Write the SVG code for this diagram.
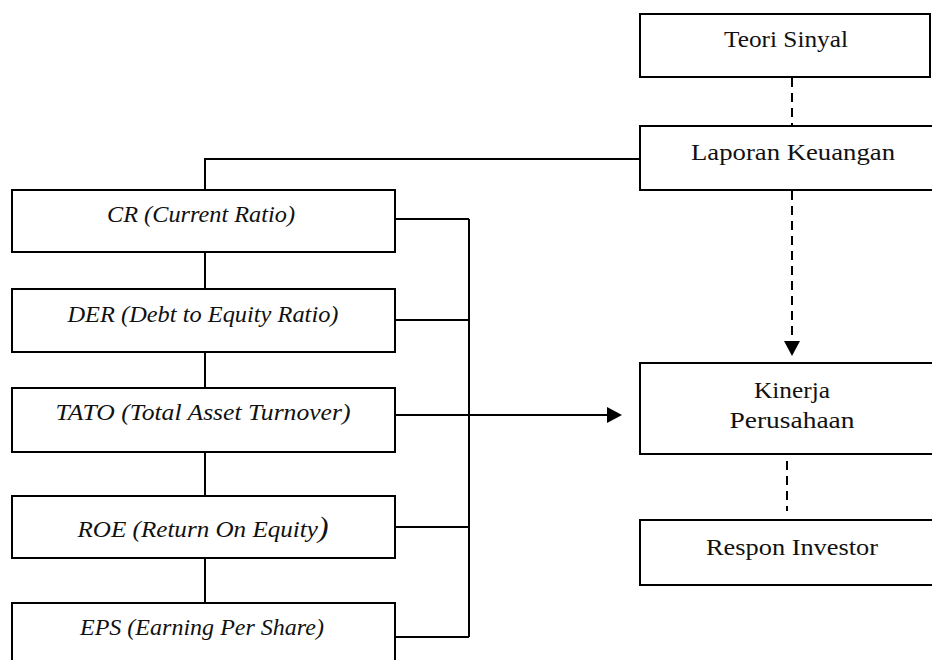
<svg xmlns="http://www.w3.org/2000/svg" width="932" height="660" viewBox="0 0 932 660">
<defs>
<style>
.box{fill:#fff;stroke:#000;stroke-width:2}
.ln{fill:none;stroke:#000;stroke-width:2}
.dash{fill:none;stroke:#000;stroke-width:2;stroke-dasharray:9 6}
.t{font-family:"Liberation Serif","Times New Roman",serif;font-size:23px;fill:#111;text-anchor:middle}
.i{font-style:italic}
</style>
</defs>
<rect width="932" height="660" fill="#fff"/>
<g id="connectors">
<polyline class="ln" points="640,159 205,159 205,190"/>
<line class="ln" x1="205" y1="252" x2="205" y2="289"/>
<line class="ln" x1="205" y1="352" x2="205" y2="388"/>
<line class="ln" x1="205" y1="452" x2="205" y2="496"/>
<line class="ln" x1="205" y1="558" x2="205" y2="603"/>
<line class="ln" x1="469" y1="219" x2="469" y2="637"/>
<line class="ln" x1="395" y1="219" x2="469" y2="219"/>
<line class="ln" x1="395" y1="320" x2="469" y2="320"/>
<line class="ln" x1="395" y1="415" x2="469" y2="415"/>
<line class="ln" x1="395" y1="527" x2="469" y2="527"/>
<line class="ln" x1="395" y1="637" x2="469" y2="637"/>
<line class="ln" x1="452" y1="415" x2="608" y2="415"/>
<path d="M607,407 L622,415 L607,423 Z" fill="#000"/>
<line class="dash" x1="792" y1="78" x2="792" y2="125"/>
<line class="dash" x1="792" y1="191" x2="792" y2="342"/>
<path d="M784,341 L800,341 L792,356 Z" fill="#000"/>
<line class="dash" x1="787" y1="461" x2="787" y2="511"/>
</g>
<g id="teori-sinyal">
<rect class="box" x="640" y="14" width="290" height="63"/>
<text class="t" x="786" y="47" textLength="124" lengthAdjust="spacingAndGlyphs">Teori Sinyal</text>
</g>
<g id="laporan-keuangan">
<rect class="box" x="640" y="126" width="300" height="64"/>
<text class="t" x="793" y="160" textLength="204" lengthAdjust="spacingAndGlyphs">Laporan Keuangan</text>
</g>
<g id="kinerja-perusahaan">
<rect class="box" x="640" y="363" width="300" height="91"/>
<text class="t" x="792" y="398" textLength="76" lengthAdjust="spacingAndGlyphs">Kinerja</text>
<text class="t" x="792" y="428" textLength="125" lengthAdjust="spacingAndGlyphs">Perusahaan</text>
</g>
<g id="respon-investor">
<rect class="box" x="640" y="520" width="300" height="65"/>
<text class="t" x="792" y="555" textLength="172" lengthAdjust="spacingAndGlyphs">Respon Investor</text>
</g>
<g id="cr">
<rect class="box" x="12" y="190" width="383" height="62"/>
<text class="t i" x="201" y="222" textLength="188" lengthAdjust="spacingAndGlyphs">CR (Current Ratio)</text>
</g>
<g id="der">
<rect class="box" x="12" y="289" width="383" height="63"/>
<text class="t i" x="203" y="322" textLength="271" lengthAdjust="spacingAndGlyphs">DER (Debt to Equity Ratio)</text>
</g>
<g id="tato">
<rect class="box" x="12" y="388" width="383" height="64"/>
<text class="t i" x="203" y="420" textLength="295" lengthAdjust="spacingAndGlyphs">TATO (Total Asset Turnover)</text>
</g>
<g id="roe">
<rect class="box" x="12" y="496" width="383" height="62"/>
<text class="t i" x="203" y="537" textLength="251" lengthAdjust="spacingAndGlyphs">ROE (Return On Equity<tspan font-size="29px">)</tspan></text>
</g>
<g id="eps">
<rect class="box" x="12" y="603" width="383" height="70"/>
<text class="t i" x="202" y="635" textLength="244" lengthAdjust="spacingAndGlyphs">EPS (Earning Per Share)</text>
</g>
</svg>
